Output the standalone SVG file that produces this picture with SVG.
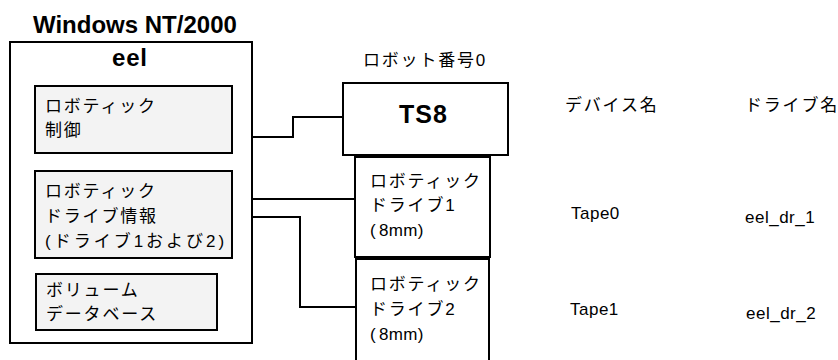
<svg xmlns="http://www.w3.org/2000/svg" width="838" height="360" viewBox="0 0 838 360">
<style>
.box{fill:#ffffff;stroke:#000;stroke-width:2}
.sub{fill:#f3f3f3;stroke:#000;stroke-width:2}
.ln{fill:none;stroke:#000;stroke-width:2}
.jp{font-family:"Liberation Sans","Noto Sans CJK JP",sans-serif;font-size:17px;letter-spacing:1.8px;fill:#000}
.lt{font-family:"Liberation Sans",Arial,sans-serif;font-size:17px;letter-spacing:0.5px;fill:#000}
.bd{font-family:"Liberation Sans",Arial,sans-serif;font-weight:bold;fill:#000}
.tt{letter-spacing:0.3px}
</style>
<rect width="838" height="360" fill="#ffffff"/>
<text class="bd" x="33" y="33" font-size="24">Windows NT/2000</text>
<g id="host">
<rect class="box" x="10" y="42" width="242" height="301"/>
<text class="bd" x="112" y="66" font-size="24" letter-spacing="0.8">eel</text>
</g>
<g id="robotic-control">
<rect class="sub" x="35" y="86" width="197" height="67"/>
<text class="jp" x="45" y="112">ロボティック</text>
<text class="jp" x="45" y="136">制御</text>
</g>
<g id="drive-info">
<rect class="sub" x="35" y="171" width="197" height="87"/>
<text class="jp" x="45" y="197">ロボティック</text>
<text class="jp" x="45" y="222">ドライブ情報</text>
<text class="jp" x="45" y="247" style="letter-spacing:3px">(ドライブ1および2)</text>
</g>
<g id="volume-db">
<rect class="sub" x="36" y="274" width="181" height="56"/>
<text class="jp" x="46" y="296">ボリューム</text>
<text class="jp" x="46" y="320">データベース</text>
</g>
<g id="robot-label">
<text class="jp" x="363" y="66">ロボット番号0</text>
</g>
<g id="ts8">
<rect class="box" x="343" y="83" width="165" height="72"/>
<text class="bd" x="399" y="123" font-size="25" letter-spacing="1">TS8</text>
</g>
<g id="drive1">
<rect class="box" x="355" y="157" width="135" height="100"/>
<text class="jp" x="370" y="187">ロボティック</text>
<text class="jp" x="370" y="211">ドライブ1</text>
<text class="jp" x="370" y="236"><tspan style="letter-spacing:3.3px">(</tspan><tspan class="tt">8mm</tspan>)</text>
</g>
<g id="drive2">
<rect class="box" x="356" y="259" width="133" height="110"/>
<text class="jp" x="370" y="290">ロボティック</text>
<text class="jp" x="370" y="315">ドライブ2</text>
<text class="jp" x="370" y="340"><tspan style="letter-spacing:3.3px">(</tspan><tspan class="tt">8mm</tspan>)</text>
</g>
<g id="device-names">
<text class="jp" x="565" y="111">デバイス名</text>
<text class="lt" x="571" y="219">Tape0</text>
<text class="lt" x="570" y="315">Tape1</text>
</g>
<g id="drive-names">
<text class="jp" x="745" y="111">ドライブ名</text>
<text class="lt" x="745" y="223">eel_dr_1</text>
<text class="lt" x="746" y="319">eel_dr_2</text>
</g>
<g id="connectors">
<polyline class="ln" points="252,137 293,137 293,117 343,117"/>
<polyline class="ln" points="252,199 355,199"/>
<polyline class="ln" points="252,217 300,217 300,307 356,307"/>
</g>
</svg>
